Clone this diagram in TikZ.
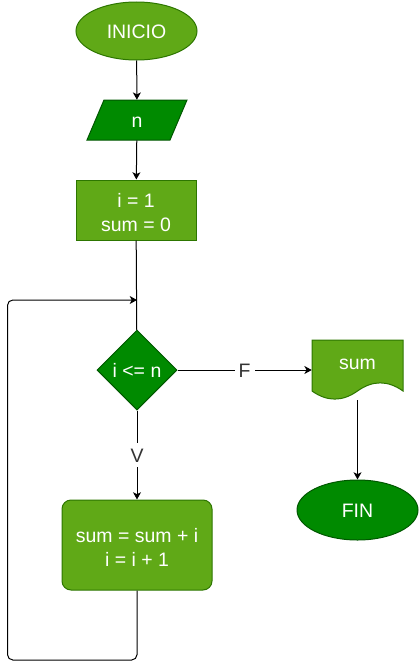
\documentclass[tikz,border=0pt]{standalone}
\usepackage{fontspec}
\setmainfont{Liberation Sans}
\usetikzlibrary{arrows.meta,shapes.geometric}
\definecolor{lg}{HTML}{60A917}
\definecolor{lgs}{HTML}{2D7600}
\definecolor{dg}{HTML}{008A00}
\definecolor{dgs}{HTML}{005700}
\definecolor{lbl}{HTML}{333333}
\begin{document}
\begin{tikzpicture}[x=0.75pt,y=-0.75pt,
 every node/.style={font=\fontsize{14.6}{17.55}\selectfont, text=white, inner sep=0pt},
 oneline/.style={text height=11.8pt, text depth=0pt},
 twoline/.style={align=center},
 light/.style={fill=lg, draw=lgs, line width=0.75pt},
 dark/.style={fill=dg, draw=dgs, line width=0.75pt},
 conn/.style={draw=black, line width=0.75pt, -{Stealth[length=5.5pt,width=6pt,inset=1.5pt]}},
 plain/.style={draw=black, line width=0.75pt},
 lab/.style={fill=white, text=lbl, inner sep=3pt, text height=11.8pt, text depth=0pt}]
\useasboundingbox (0,0) rectangle (419,671);

% start
\node[ellipse, light, oneline, minimum width=90.75pt, minimum height=43.5pt] (start) at (136.5,31) {INICIO};

% input parallelogram
\fill[dg, draw=dgs, line width=0.75pt] (87,140) -- (104,100) -- (187,100) -- (170,140) -- cycle;
\node[oneline, minimum width=75pt, minimum height=30pt] (input) at (137,120) {n};

% init
\node[light, minimum width=90pt, minimum height=45pt] (init) at (136,210) {};
\node[twoline] (inittext) at (136,212.5) {i = 1\\sum = 0};

% decision
\node[diamond, dark, oneline, aspect=1, minimum width=60pt, minimum height=60pt] (cond) at (137,370) {i <= n};

% output document
\fill[lg, draw=lgs, line width=0.75pt] (312,340) -- (403,340) -- (403,391)
  .. controls (387.83,380.2) and (372.67,380.2) .. (357.5,391)
  .. controls (342.33,401.8) and (327.17,401.8) .. (312,391) -- cycle;
\node[minimum width=68.25pt, minimum height=45pt] (out) at (357.5,370) {};
\node[oneline] (outtext) at (357.5,361.5) {sum};

% end
\node[ellipse, dark, oneline, minimum width=90.75pt, minimum height=45pt] (end) at (357.5,510) {FIN};

% process
\node[light, rounded corners=6.75pt, minimum width=112.5pt, minimum height=67.5pt] (proc) at (137,545) {};
\node[twoline] (proctext) at (137,547.5) {sum = sum + i\\i = i + 1};

\coordinate (merge) at (137,300);
\coordinate (lb) at (7.5,660);

% connectors
\draw[conn] (start) -- (input);
\draw[conn] (input) -- (init);
\draw[plain] (init) -- (cond);
\draw[conn] (cond) -- node[lab] (flab) {F} (out);
\draw[conn] (cond) -- node[lab] (vlab) {V} (proc);
\draw[conn] (out.south) -- (end);
\draw[conn, rounded corners=4pt] (proc.south) |- (lb) |- (merge);
\end{tikzpicture}
\end{document}
